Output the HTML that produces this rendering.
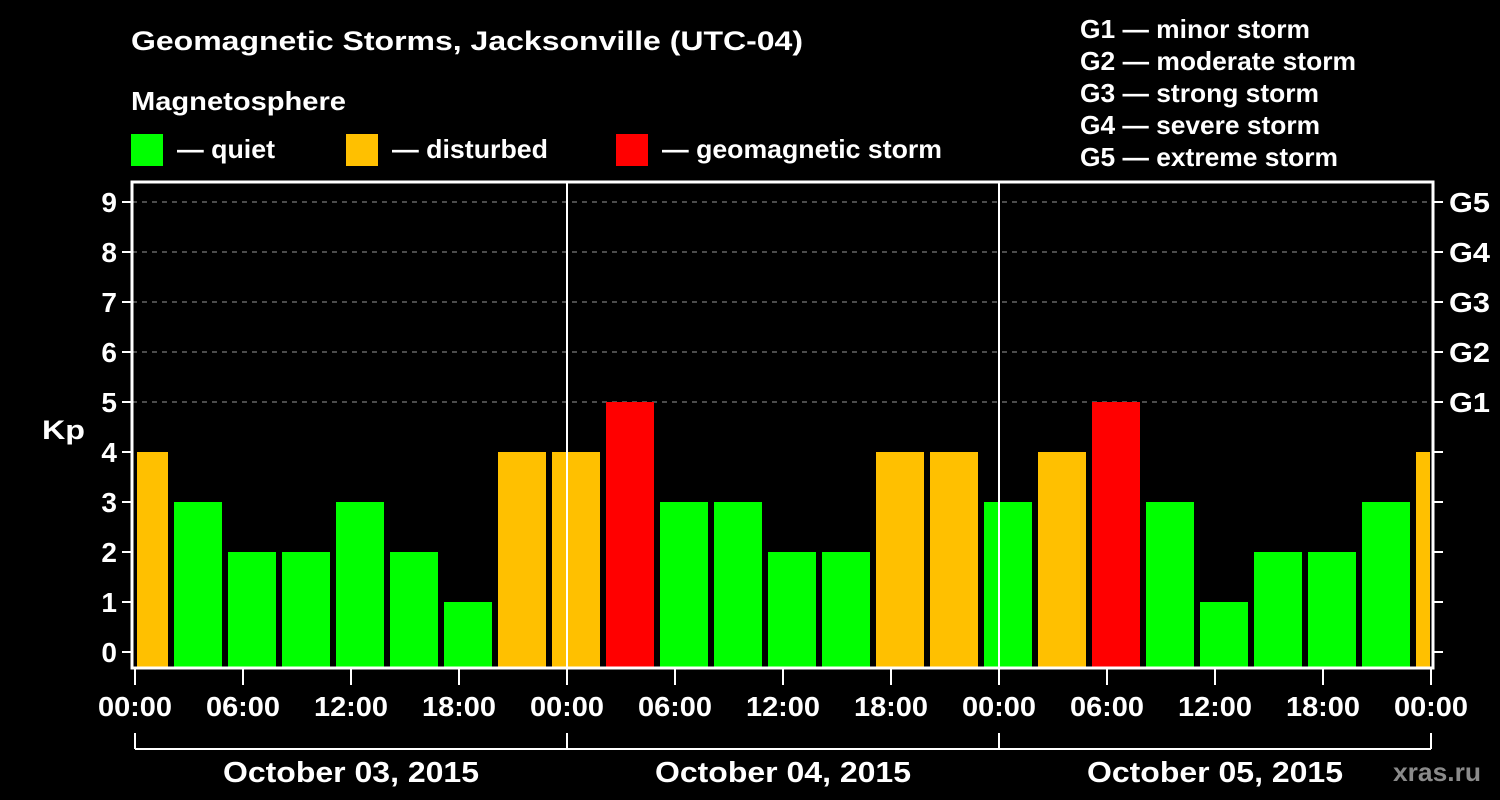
<!DOCTYPE html>
<html><head><meta charset="utf-8"><style>
body{margin:0;background:#000;width:1500px;height:800px;overflow:hidden}
svg{display:block}
text{font-family:"Liberation Sans",sans-serif;font-weight:bold;fill:#fff}
</style></head><body>
<svg id="c" width="1500" height="800">
<text x="131" y="50" font-size="27" textLength="672" lengthAdjust="spacingAndGlyphs">Geomagnetic Storms, Jacksonville (UTC-04)</text>
<text x="131" y="110" font-size="26" textLength="215" lengthAdjust="spacingAndGlyphs">Magnetosphere</text>
<g><rect x="131" y="134" width="32" height="32" fill="#00ff00"/><text x="177" y="158" font-size="26" textLength="98" lengthAdjust="spacingAndGlyphs">— quiet</text></g>
<g><rect x="346" y="134" width="32" height="32" fill="#ffc000"/><text x="392" y="158" font-size="26" textLength="156" lengthAdjust="spacingAndGlyphs">— disturbed</text></g>
<g><rect x="616" y="134" width="32" height="32" fill="#ff0000"/><text x="662" y="158" font-size="26" textLength="280" lengthAdjust="spacingAndGlyphs">— geomagnetic storm</text></g>
<g font-size="26">
<text x="1080" y="38" textLength="230" lengthAdjust="spacingAndGlyphs">G1 — minor storm</text>
<text x="1080" y="70" textLength="276" lengthAdjust="spacingAndGlyphs">G2 — moderate storm</text>
<text x="1080" y="102" textLength="239" lengthAdjust="spacingAndGlyphs">G3 — strong storm</text>
<text x="1080" y="134" textLength="240" lengthAdjust="spacingAndGlyphs">G4 — severe storm</text>
<text x="1080" y="166" textLength="258" lengthAdjust="spacingAndGlyphs">G5 — extreme storm</text>
</g>
<text x="42" y="439" font-size="27" textLength="43" lengthAdjust="spacingAndGlyphs">Kp</text>
<text x="1393" y="781" font-size="26" textLength="88" lengthAdjust="spacingAndGlyphs" style="fill:#8a8a8a">xras.ru</text>
<g id="plot"></g>
</svg>
<script>
const kpValues=[4,3,2,2,3,2,1,4,4,5,3,3,2,2,4,4,3,4,5,3,1,2,2,3,4];
const dayLabels=["October 03, 2015","October 04, 2015","October 05, 2015"];
const hourLabels=["00:00","06:00","12:00","18:00"];
const gLabels=["G1","G2","G3","G4","G5"];
const yTicks=[0,1,2,3,4,5,6,7,8,9];
const firstBarHour=-1;

const L=135,R=1431,FL=132,FR=1433,T=182,B=668;
const hours=72;
const x=h=>L+(R-L)*h/hours;
const y=v=>652-50*v;
const ns="http://www.w3.org/2000/svg";
const P=document.getElementById('plot');
function mk(t,a,parent){const e=document.createElementNS(ns,t);for(const k in a)e.setAttribute(k,a[k]);(parent||P).appendChild(e);return e;}
for(const v of [5,6,7,8,9]){const g=mk('line',{x1:FL,x2:FR,y1:y(v),y2:y(v),stroke:'#999','stroke-dasharray':'5,5','stroke-width':1});

}
kpValues.forEach((v,i)=>{
 const h0=firstBarHour+3*i;
 let x0=x(h0)+3,x1=x(h0+3)-3;
 x0=Math.max(x0,FL+5);x1=Math.min(x1,FR-3);
 const col=v>=5?'#ff0000':v>=4?'#ffc000':'#00ff00';
 const r=mk('rect',{x:x0,y:y(v),width:x1-x0,height:B-y(v),fill:col});
 
 
});
for(const d of [1,2]){const l=mk('line',{x1:x(24*d),x2:x(24*d),y1:T,y2:B,stroke:'#fff','stroke-width':2});

}
const f=mk('rect',{x:FL,y:T,width:FR-FL,height:B-T,fill:'none',stroke:'#fff','stroke-width':3});


yTicks.forEach(v=>{
 mk('line',{x1:FL-10,x2:FL,y1:y(v),y2:y(v),stroke:'#fff','stroke-width':2});
 mk('line',{x1:FR,x2:FR+10,y1:y(v),y2:y(v),stroke:'#fff','stroke-width':2});
 const t=mk('text',{x:FL-15,y:y(v)+10,'font-size':28,'text-anchor':'end'});t.textContent=v;
 
 
});
gLabels.forEach((g,i)=>{const t=mk('text',{x:1449,y:y(5+i)+10,'font-size':28,textLength:41,lengthAdjust:'spacingAndGlyphs'});t.textContent=g;
 
 });
for(let h=0;h<=hours;h+=6){
 mk('line',{x1:x(h),x2:x(h),y1:B,y2:B+17,stroke:'#fff','stroke-width':2});
 const t=mk('text',{x:x(h)-37,y:716,'font-size':28,textLength:74,lengthAdjust:'spacingAndGlyphs'});t.textContent=hourLabels[(h/6)%4];
 
 
}
mk('line',{x1:L,x2:R,y1:749,y2:749,stroke:'#fff','stroke-width':2});
for(let d=0;d<=3;d++)mk('line',{x1:x(24*d),x2:x(24*d),y1:733,y2:749,stroke:'#fff','stroke-width':2});
dayLabels.forEach((s,i)=>{const t=mk('text',{x:x(24*i+12)-128,y:782,'font-size':29,textLength:256,lengthAdjust:'spacingAndGlyphs'});t.textContent=s;
 
 });
</script>
</body></html>
